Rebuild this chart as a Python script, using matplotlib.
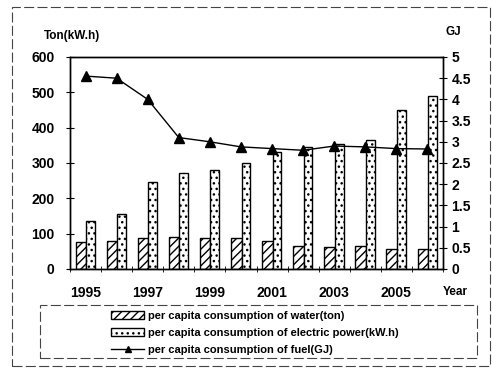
import matplotlib
matplotlib.use("Agg")
import matplotlib.pyplot as plt
import numpy as np
from matplotlib.patches import Rectangle
from matplotlib.lines import Line2D

years = [1995, 1996, 1997, 1998, 1999, 2000, 2001, 2002, 2003, 2004, 2005, 2006]
water_ton = [76, 80, 89, 90, 89, 89, 80, 66, 63, 65, 58, 56]
power_kwh = [137, 155, 247, 273, 280, 301, 332, 344, 353, 365, 450, 490]
fuel_gj = [4.55, 4.5, 4.0, 3.1, 3.0, 2.88, 2.84, 2.8, 2.9, 2.88, 2.84, 2.83]
year_labels = ["1995", "1997", "1999", "2001", "2003", "2005"]

plt.rcParams["font.family"] = ["Liberation Sans", "DejaVu Sans"]
plt.rcParams["hatch.linewidth"] = 1.0

W, H = 493, 372
fig = plt.figure(figsize=(W / 100, H / 100), dpi=100)
ax = fig.add_axes([70 / W, 1 - 269 / H, (443 - 70) / W, (269 - 57) / H])
ax2 = ax.twinx()

x = np.arange(len(years))
ax.bar(x - 0.32, water_ton, width=0.34, align="edge", facecolor="white",
       edgecolor="black", hatch="////", linewidth=1.0, zorder=2)
ax.bar(x + 0.02, power_kwh, width=0.28, align="edge", facecolor="white",
       edgecolor="black", hatch="...", linewidth=1.0, zorder=2)
ax2.plot(x, fuel_gj, color="black", linewidth=1.0, marker="^",
         markersize=6.5, zorder=3)

ax.set_xlim(-0.5, len(years) - 0.5)
ax.set_ylim(0, 600)
ax2.set_ylim(0, 5)
ax.set_yticks(np.arange(0, 601, 100))
ax2.set_yticks(np.arange(0, 5.01, 0.5))
ax2.set_yticklabels(["0", "0.5", "1", "1.5", "2", "2.5", "3", "3.5", "4", "4.5", "5"])

label_pos = [years.index(int(y)) for y in year_labels]
ax.set_xticks(label_pos)
ax.set_xticklabels(year_labels)
ax.set_xticks(np.arange(-0.5, len(years), 1.0), minor=True)
ax.tick_params(axis="x", which="major", length=0, pad=12, labelsize=10)
ax.tick_params(axis="x", which="minor", direction="inout", length=5)
ax.tick_params(axis="y", direction="inout", length=6, labelsize=10, pad=8)
ax2.tick_params(axis="y", direction="inout", length=6, labelsize=10, pad=3)
for lab in ax.get_xticklabels() + ax.get_yticklabels() + ax2.get_yticklabels():
    lab.set_fontweight("bold")

for a in (ax, ax2):
    for s in a.spines.values():
        s.set_linewidth(1.0)

fig.text(44 / W, 1 - 36 / H, "Ton(kW.h)", fontsize=8.5, fontweight="bold",
         va="center", ha="left")
fig.text(446 / W, 1 - 32 / H, "GJ", fontsize=8.5, fontweight="bold",
         va="center", ha="left")
fig.text(443 / W, 1 - 292 / H, "Year", fontsize=8.5, fontweight="bold",
         va="center", ha="left")

dash = (0, (9, 3))
fig.patches.append(Rectangle((12 / W, 1 - 366 / H), (490 - 12) / W, (366 - 7) / H,
                             transform=fig.transFigure, fill=False,
                             edgecolor="#444444", linewidth=0.8, linestyle=dash))
fig.patches.append(Rectangle((40 / W, 1 - 358 / H), (477 - 40) / W, (358 - 305) / H,
                             transform=fig.transFigure, fill=False,
                             edgecolor="#444444", linewidth=0.8, linestyle=dash))

handles = [
    Rectangle((0, 0), 1, 1, facecolor="white", edgecolor="black", hatch="////"),
    Rectangle((0, 0), 1, 1, facecolor="white", edgecolor="black", hatch="..."),
    Line2D([], [], color="black", linewidth=1.0, marker="^", markersize=5),
]
labels = ["per capita consumption of water(ton)",
          "per capita consumption of electric power(kW.h)",
          "per capita consumption of fuel(GJ)"]
leg = fig.legend(handles, labels, loc="upper left",
                 bbox_to_anchor=(102 / W, 1 - 302 / H), frameon=False,
                 fontsize=8, handlelength=3.0, handleheight=0.8,
                 handletextpad=0.3, labelspacing=0.6, borderpad=0.3)
for t in leg.get_texts():
    t.set_fontweight("bold")

fig.savefig("out.png", dpi=100)
